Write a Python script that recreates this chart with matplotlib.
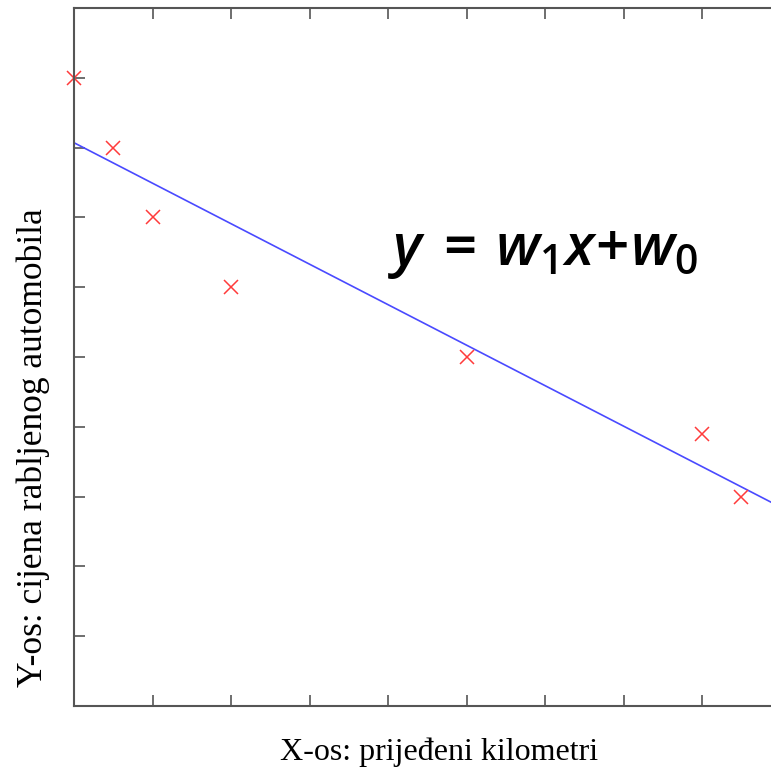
import matplotlib.pyplot as plt
import numpy as np

# ulazni podaci (prijeđeni km, cijena)
km = [0, 0.5, 1, 2, 5, 8, 8.5]
cijena = [9, 8, 7, 6, 5, 3.9, 3.0]

# pravac y = w1*x + w0
w0 = 8.07
w1 = -0.58
line_x = np.array([0, 9])

xticks = [1, 2, 3, 4, 5, 6, 7, 8]
yticks = [1, 2, 3, 4, 5, 6, 7, 8, 9]

plt.rcParams['mathtext.fontset'] = 'custom'
plt.rcParams['mathtext.it'] = 'Open Sans:italic:semibold'
plt.rcParams['mathtext.rm'] = 'Open Sans:semibold'

fig = plt.figure(figsize=(7.71, 7.69), dpi=100)
W, H = 771, 769
ax = fig.add_axes([74 / W, (H - 706) / H, (780.5 - 74) / W, (706 - 8) / H])

ax.plot(line_x, w0 + w1 * line_x, color='#4a4aff', lw=1.2)
ax.plot(km, cijena, linestyle='none', marker='x', color='#ff3b3b',
        markersize=10, markeredgewidth=1.1, clip_on=False)

ax.set_xlim(0, 9)
ax.set_ylim(0, 10)
ax.set_xticks(xticks)
ax.set_yticks(yticks)
ax.set_xticklabels([])
ax.set_yticklabels([])
ax.tick_params(direction='in', length=8, width=1.2, color='#555555',
               top=True, right=False)
for s in ['left', 'bottom', 'top']:
    ax.spines[s].set_color('#555555')
    ax.spines[s].set_linewidth(1.5)
ax.spines['right'].set_visible(False)

ax.text(4.0, 6.5, r'$y\:=\,w_1x\!+\!w_0$', fontsize=42, ha='left', va='center')

fig.text(439 / W, 1 - 752 / H, 'X-os: prijeđeni kilometri', family='Liberation Serif',
         fontsize=23, ha='center', va='center')
fig.text(33 / W, 1 - 448 / H, 'Y-os: cijena rabljenog automobila', family='Liberation Serif',
         fontsize=25.5, ha='center', va='center', rotation=90)

fig.savefig('out.png', dpi=100)
